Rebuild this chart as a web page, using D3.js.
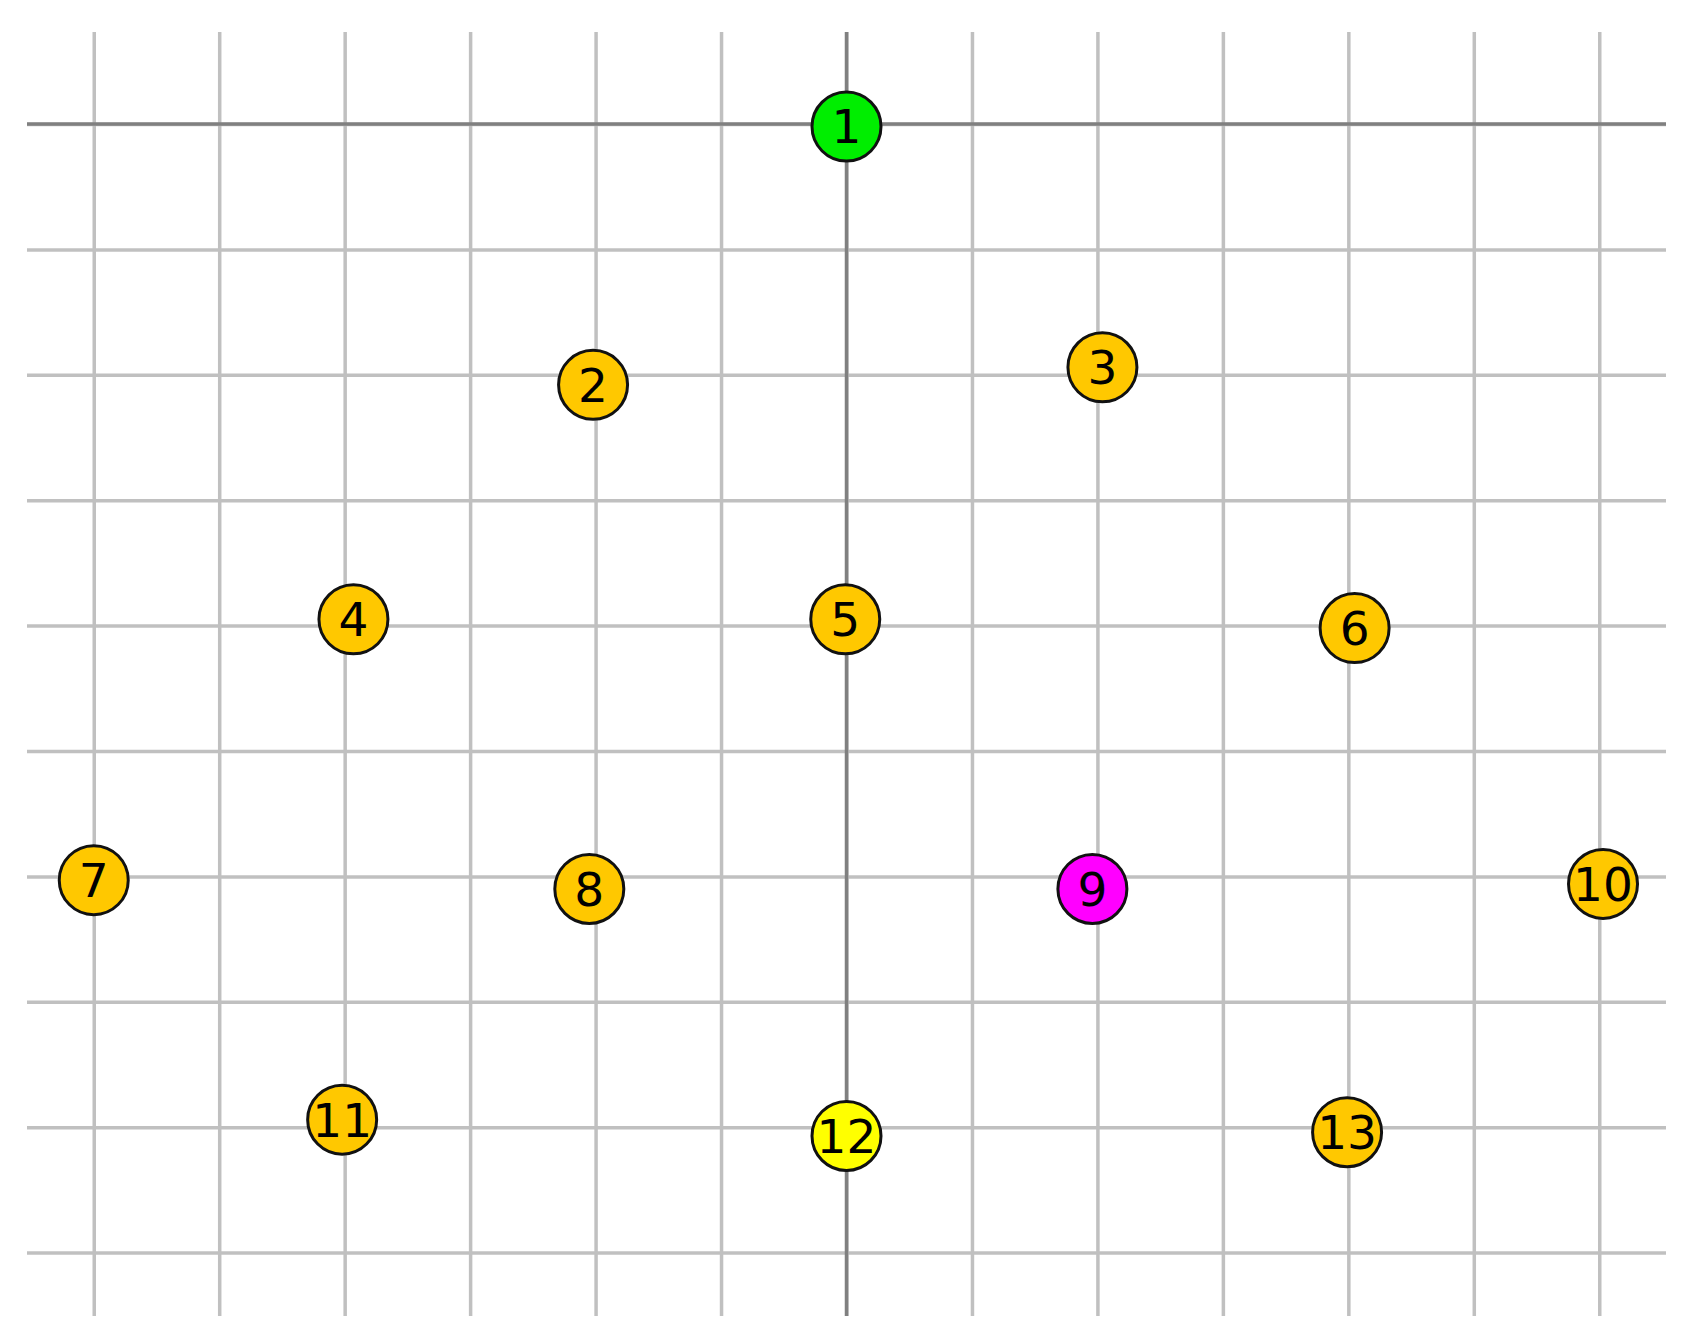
<!DOCTYPE html>
<html>
<head>
<meta charset="utf-8">
<script src="https://cdn.jsdelivr.net/npm/d3@7"></script>
<style>
    body { margin: 0; background: #fff; }
    svg { display: block; }
    .grid line { stroke: #c0c0c0; stroke-width: 3.5; }
    .grid path { display: none; }
    .node-label { font-family: "DejaVu Sans", sans-serif; font-size: 47px; }
</style>
</head>
<body>
<div id="chart"></div>
<script>
// node positions in grid units (y grows upward, 0 is the top axis)
const labels = ["1", "2", "3", "4", "5", "6", "7", "8", "9", "10", "11", "12", "13"];
const xs = [0, -2.02, 2.04, -3.93, -0.01, 4.05, -6.0, -2.05, 1.96, 6.03, -4.02, 0, 3.99];
const ys = [-0.02, -2.08, -1.94, -3.95, -3.95, -4.02, -6.03, -6.1, -6.1, -6.06, -7.94, -8.07, -8.04];
const kinds = ["start", "node", "node", "node", "node", "node", "node", "node", "goal", "node", "node", "visit", "node"];

const xTicks = d3.range(-6, 7);
const yTicks = d3.range(-9, 1);

const width = 1686, height = 1339;
const margin = { left: 27, right: 1666, top: 32, bottom: 1316 };

const x = d3.scaleLinear().domain([-6.532, 6.532]).range([margin.left, margin.right]);
const y = d3.scaleLinear().domain([0.734, -9.506]).range([margin.top, margin.bottom]);

const color = d3.scaleOrdinal()
    .domain(["start", "node", "goal", "visit"])
    .range(["#00ee00", "#ffc800", "#ff00ff", "#ffff00"]);

const svg = d3.select("#chart")
    .append("svg")
    .attr("width", width)
    .attr("height", height);

// grid via axes with full-length ticks
svg.append("g")
    .attr("class", "grid")
    .attr("transform", `translate(0,${margin.bottom})`)
    .call(d3.axisBottom(x).tickValues(xTicks).tickSize(-(margin.bottom - margin.top)).tickFormat(""));

svg.append("g")
    .attr("class", "grid")
    .attr("transform", `translate(${margin.left},0)`)
    .call(d3.axisLeft(y).tickValues(yTicks).tickSize(-(margin.right - margin.left)).tickFormat(""));

// main axes
svg.append("line")
    .attr("x1", x(0)).attr("x2", x(0))
    .attr("y1", margin.top).attr("y2", margin.bottom)
    .attr("stroke", "#808080").attr("stroke-width", 3.5);

svg.append("line")
    .attr("x1", margin.left).attr("x2", margin.right)
    .attr("y1", y(0)).attr("y2", y(0))
    .attr("stroke", "#808080").attr("stroke-width", 3.5);

const nodes = labels.map((d, i) => ({ label: d, x: xs[i], y: ys[i], kind: kinds[i] }));

const g = svg.append("g")
    .selectAll("g")
    .data(nodes)
    .join("g")
    .attr("transform", (d) => `translate(${x(d.x)},${y(d.y)})`);

g.append("circle")
    .attr("r", 34.5)
    .attr("fill", (d) => color(d.kind))
    .attr("stroke", "#111")
    .attr("stroke-width", 3);

g.append("text")
    .attr("class", "node-label")
    .attr("text-anchor", "middle")
    .attr("dy", "0.36em")
    .text((d) => d.label);
</script>
</body>
</html>
